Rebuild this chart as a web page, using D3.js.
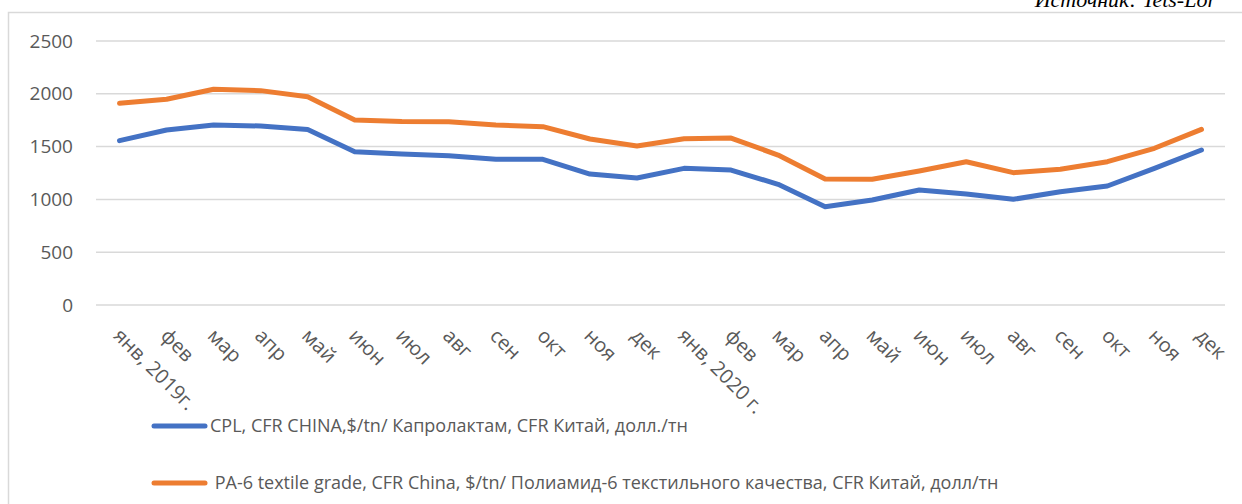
<!DOCTYPE html>
<html>
<head>
<meta charset="utf-8">
<script src="https://cdn.jsdelivr.net/npm/d3@7"></script>
<style>
  html, body { margin: 0; padding: 0; background: #fff; }
  svg text { font-family: "Open Sans", "Noto Sans", sans-serif; }
</style>
</head>
<body>
<svg id="chart"></svg>
<script>
const months = ['янв, 2019г.', 'фев', 'мар', 'апр', 'май', 'июн', 'июл', 'авг', 'сен', 'окт', 'ноя', 'дек',
  'янв, 2020 г.', 'фев', 'мар', 'апр', 'май', 'июн', 'июл', 'авг', 'сен', 'окт', 'ноя', 'дек'];

// CPL, CFR China, $/tn
const cpl = [1556, 1657, 1705, 1695, 1663, 1452, 1430, 1414, 1380, 1380, 1240, 1203,
  1294, 1278, 1143, 931, 994, 1089, 1051, 1001, 1073, 1127, 1294, 1468];

// PA-6 textile grade, CFR China, $/tn
const pa6 = [1910, 1948, 2043, 2030, 1973, 1752, 1738, 1736, 1705, 1689, 1572, 1506,
  1575, 1581, 1420, 1193, 1190, 1269, 1357, 1253, 1285, 1357, 1484, 1663];

const yTicks = [0, 500, 1000, 1500, 2000, 2500];

const seriesNames = [
  'CPL, CFR CHINA,$/tn/ Капролактам, CFR Китай, долл./тн',
  ' PA-6 textile grade, CFR China, $/tn/ Полиамид-6 текстильного качества, CFR Китай, долл/тн'
];
const colors = ['#4472C4', '#ED7D31'];

const width = 1242, height = 504;
const svg = d3.select('#chart').attr('width', width).attr('height', height);

// frame
svg.append('rect')
  .attr('x', 8.5).attr('y', 12.5)
  .attr('width', width + 10).attr('height', height + 10)
  .attr('fill', 'none').attr('stroke', '#d9d9d9').attr('stroke-width', 1.5);

// source note (cut off at top, as in the original)
svg.append('text')
  .attr('x', 1216).attr('y', 7)
  .attr('text-anchor', 'end')
  .style('font-family', '"Liberation Serif", serif')
  .style('font-style', 'italic')
  .style('font-size', '22px')
  .attr('fill', '#000')
  .text('Источник: Tets-Lor');

const x = d3.scaleBand().domain(d3.range(months.length)).range([96, 1225]);
const y = d3.scaleLinear().domain([0, 2500]).range([305, 41]);

// grid
svg.append('g')
  .selectAll('line')
  .data(yTicks)
  .join('line')
  .attr('x1', 96).attr('x2', 1225)
  .attr('y1', d => y(d)).attr('y2', d => y(d))
  .attr('stroke', '#d9d9d9').attr('stroke-width', 1.5);

// y labels
svg.append('g')
  .selectAll('text')
  .data(yTicks)
  .join('text')
  .attr('x', 73).attr('y', d => y(d))
  .attr('dy', '0.35em')
  .attr('text-anchor', 'end')
  .attr('fill', '#595959')
  .style('font-size', '19px')
  .text(d => d);

// x labels
svg.append('g')
  .selectAll('text')
  .data(months)
  .join('text')
  .attr('transform', (d, i) => `translate(${x(i) + x.bandwidth() / 2 - 7},337) rotate(45)`)
  .attr('text-anchor', 'start')
  .attr('fill', '#595959')
  .style('font-size', '20px')
  .text(d => d);

// lines
const line = d3.line()
  .x((d, i) => x(i) + x.bandwidth() / 2)
  .y(d => y(d));

[cpl, pa6].forEach((s, k) => {
  svg.append('path')
    .attr('d', line(s))
    .attr('fill', 'none')
    .attr('stroke', colors[k])
    .attr('stroke-width', 5)
    .attr('stroke-linejoin', 'round')
    .attr('stroke-linecap', 'round');
});

// legend
const legendY = [426, 483];
seriesNames.forEach((name, k) => {
  svg.append('line')
    .attr('x1', 154).attr('x2', 205)
    .attr('y1', legendY[k]).attr('y2', legendY[k])
    .attr('stroke', colors[k]).attr('stroke-width', 5)
    .attr('stroke-linecap', 'round');
  svg.append('text')
    .attr('x', 210).attr('y', legendY[k])
    .attr('dy', '0.35em')
    .attr('fill', '#595959')
    .style('font-size', '18px')
    .style('white-space', 'pre')
    .text(name);
});
</script>
</body>
</html>
